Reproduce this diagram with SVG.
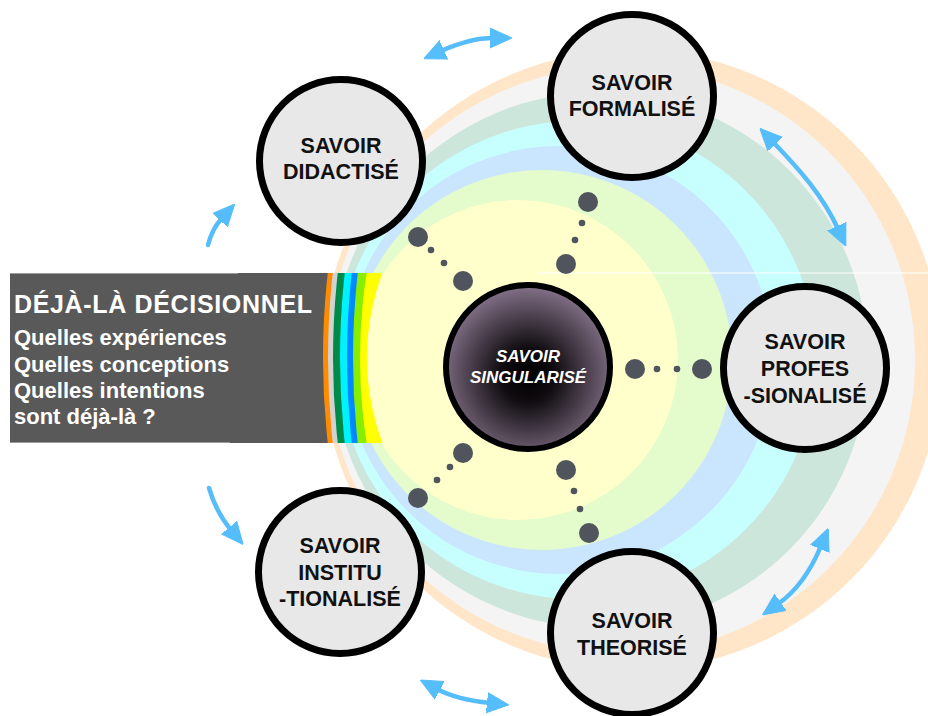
<svg xmlns="http://www.w3.org/2000/svg" width="928" height="716" viewBox="0 0 928 716">
<defs>
<style>
.sat{fill:#e8e8e8;stroke:#000;stroke-width:7}
.st{font-family:"Liberation Sans",Arial,sans-serif;font-weight:bold;font-size:21.5px;fill:#111;text-anchor:middle}
.bt{font-family:"Liberation Sans",Arial,sans-serif;font-weight:bold;fill:#fff}
.dot{fill:#50545c}
.arr{fill:none;stroke:#56bdfb;stroke-width:4.5;stroke-linecap:round}
</style>
<marker id="ah" viewBox="0 0 22 22" refX="3" refY="11" markerWidth="22" markerHeight="22" markerUnits="userSpaceOnUse" orient="auto-start-reverse">
<path d="M0,1 L22,11 L0,21 z" fill="#56bdfb" stroke="#56bdfb" stroke-width="1" stroke-linejoin="round"/>
</marker>
<radialGradient id="cg" cx="50%" cy="55%" r="55%">
<stop offset="0" stop-color="#000"/>
<stop offset="0.3" stop-color="#100c10"/>
<stop offset="1" stop-color="#85738a"/>
</radialGradient>
<clipPath id="bc"><rect x="300" y="273" width="90" height="170"/></clipPath>
</defs>
<rect width="928" height="716" fill="#fff"/>
<g id="rings">
<circle cx="632" cy="360" r="310" fill="#ffe6c9"/>
<circle cx="621" cy="360" r="294" fill="#f4f4f4"/>
<circle cx="600" cy="360" r="268" fill="#cce6db"/>
<circle cx="577" cy="360" r="239" fill="#c7ffff"/>
<circle cx="559" cy="360" r="214" fill="#cae6ff"/>
<circle cx="542" cy="360" r="190" fill="#e4fbcc"/>
<circle cx="518" cy="360" r="160" fill="#ffffcc"/>
<line x1="537" y1="273" x2="928" y2="273" stroke="#fff" stroke-width="1.2"/>
</g>
<g id="banner">
<rect x="10" y="273" width="330" height="170" fill="#595959"/>
<line x1="10" y1="273.5" x2="238" y2="273.5" stroke="#9a9a9a" stroke-width="1"/>
<line x1="10" y1="442.5" x2="230" y2="442.5" stroke="#9a9a9a" stroke-width="1"/>
<g clip-path="url(#bc)">
<circle cx="1083" cy="358" r="760" fill="#ff8c00"/>
<circle cx="1088" cy="358" r="760" fill="#d2d2d2"/>
<circle cx="1093" cy="358" r="760" fill="#008a48"/>
<circle cx="1100" cy="358" r="760" fill="#00f2ff"/>
<circle cx="1107" cy="358" r="760" fill="#0088ff"/>
<circle cx="1113" cy="358" r="760" fill="#88ee00"/>
<circle cx="904" cy="358" r="544" fill="#ffff00"/>
<circle cx="611" cy="358" r="244" fill="#ffffcc"/>
</g>
<text class="bt" x="14" y="313" font-size="25" textLength="298" lengthAdjust="spacing">DÉJÀ-LÀ DÉCISIONNEL</text>
<text class="bt" x="14" y="345" font-size="22">Quelles expériences</text>
<text class="bt" x="14" y="372" font-size="22">Quelles conceptions</text>
<text class="bt" x="14" y="398" font-size="22">Quelles intentions</text>
<text class="bt" x="14" y="424" font-size="22">sont déjà-là ?</text>
</g>
<g id="connectors">
<circle class="dot" cx="418" cy="237" r="10"/><circle class="dot" cx="431" cy="250" r="3.3"/><circle class="dot" cx="444" cy="263" r="3.3"/><circle class="dot" cx="463" cy="281" r="10"/>
<circle class="dot" cx="588" cy="202" r="10"/><circle class="dot" cx="582" cy="223" r="3.3"/><circle class="dot" cx="575" cy="240" r="3.3"/><circle class="dot" cx="566" cy="264" r="10"/>
<circle class="dot" cx="635" cy="369" r="10"/><circle class="dot" cx="657" cy="369" r="3.3"/><circle class="dot" cx="677" cy="369" r="3.3"/><circle class="dot" cx="702" cy="369" r="10"/>
<circle class="dot" cx="463" cy="453" r="10"/><circle class="dot" cx="450" cy="467" r="3.3"/><circle class="dot" cx="437" cy="480" r="3.3"/><circle class="dot" cx="418" cy="498" r="10"/>
<circle class="dot" cx="566" cy="470" r="10"/><circle class="dot" cx="574" cy="491" r="3.3"/><circle class="dot" cx="580" cy="509" r="3.3"/><circle class="dot" cx="589" cy="533" r="10"/>
<path class="arr" d="M441 51 C459 43 476 38 493 38" marker-start="url(#ah)" marker-end="url(#ah)"/>
<path class="arr" d="M773 142 C800 170 823 196 838 229" marker-start="url(#ah)" marker-end="url(#ah)"/>
<path class="arr" d="M821 546 C811 570 798 590 778 604" marker-start="url(#ah)" marker-end="url(#ah)"/>
<path class="arr" d="M437 689 C452 697 470 701 490 703" marker-start="url(#ah)" marker-end="url(#ah)"/>
<path class="arr" d="M208 245 Q212 229 222 218" marker-end="url(#ah)"/>
<path class="arr" d="M209 488 Q216 512 231 530" marker-end="url(#ah)"/>
</g>
<g id="singularise">
<circle cx="528" cy="367" r="82" fill="url(#cg)" stroke="#000" stroke-width="6"/>
<text x="528" y="362" font-family="'Liberation Sans',Arial,sans-serif" font-weight="bold" font-style="italic" font-size="17" fill="#fff" text-anchor="middle">SAVOIR</text>
<text x="528" y="383" font-family="'Liberation Sans',Arial,sans-serif" font-weight="bold" font-style="italic" font-size="17" fill="#fff" text-anchor="middle">SINGULARISÉ</text>
</g>
<g id="didactise">
<circle class="sat" cx="341" cy="161" r="81.5"/>
<text class="st" x="341" y="153">SAVOIR</text>
<text class="st" x="341" y="179">DIDACTISÉ</text>
</g>
<g id="formalise">
<circle class="sat" cx="632" cy="96" r="81.5"/>
<text class="st" x="632" y="90">SAVOIR</text>
<text class="st" x="632" y="116">FORMALISÉ</text>
</g>
<g id="professionalise">
<circle class="sat" cx="805" cy="368" r="81.5"/>
<text class="st" x="805" y="349">SAVOIR</text>
<text class="st" x="805" y="376">PROFES</text>
<text class="st" x="805" y="403">-SIONALISÉ</text>
</g>
<g id="institutionalise">
<circle class="sat" cx="340" cy="572" r="81.5"/>
<text class="st" x="340" y="553">SAVOIR</text>
<text class="st" x="340" y="580">INSTITU</text>
<text class="st" x="340" y="606">-TIONALISÉ</text>
</g>
<g id="theorise">
<circle class="sat" cx="632" cy="633" r="81.5"/>
<text class="st" x="632" y="628">SAVOIR</text>
<text class="st" x="632" y="655">THEORISÉ</text>
</g>
</svg>
